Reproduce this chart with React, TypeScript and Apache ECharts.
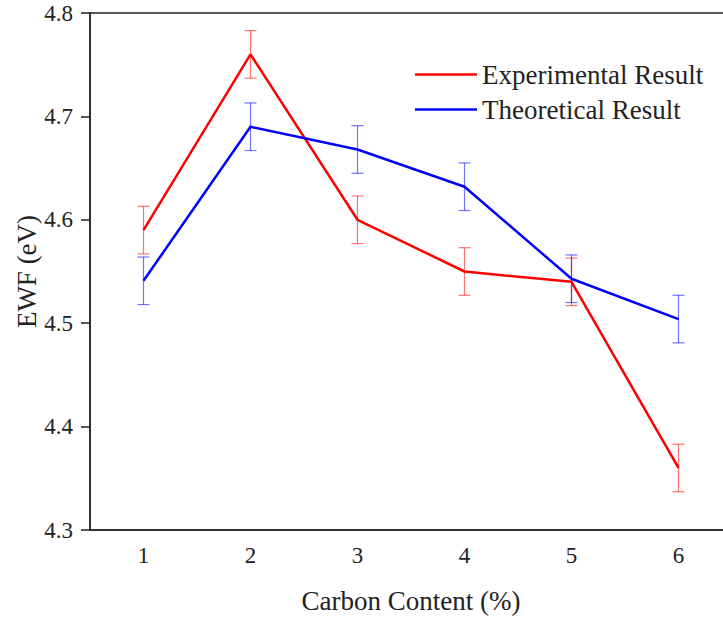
import React, { useEffect, useRef } from "react";
import * as echarts from "echarts";

const categories = ["1", "2", "3", "4", "5", "6"];
const experimental = [4.59, 4.76, 4.6, 4.55, 4.54, 4.36];
const experimentalErr = [0.023, 0.023, 0.023, 0.023, 0.023, 0.023];
const theoretical = [4.541, 4.69, 4.668, 4.632, 4.543, 4.504];
const theoreticalErr = [0.023, 0.023, 0.023, 0.023, 0.023, 0.023];

const FONT = "Liberation Serif";

function errorSeries(values: number[], errs: number[], color: string) {
  return {
    type: "custom",
    silent: true,
    z: 1,
    data: values.map((v, i) => [i, v - errs[i], v + errs[i]]),
    encode: { x: 0, y: [1, 2] },
    renderItem: (params: any, api: any) => {
      const x = api.value(0);
      const lo = api.coord([x, api.value(1)]);
      const hi = api.coord([x, api.value(2)]);
      const hw = 6;
      const style = { stroke: color, lineWidth: 1.2 };
      return {
        type: "group",
        children: [
          { type: "line", shape: { x1: lo[0], y1: lo[1], x2: hi[0], y2: hi[1] }, style },
          { type: "line", shape: { x1: lo[0] - hw, y1: lo[1], x2: lo[0] + hw, y2: lo[1] }, style },
          { type: "line", shape: { x1: hi[0] - hw, y1: hi[1], x2: hi[0] + hw, y2: hi[1] }, style },
        ],
      };
    },
  };
}

export default function App() {
  const ref = useRef<HTMLDivElement>(null);
  useEffect(() => {
    if (!ref.current) return;
    const chart = echarts.init(ref.current, undefined, { renderer: "svg" });
    chart.setOption({
      animation: false,
      backgroundColor: "#ffffff",
      grid: {
        left: 90,
        right: 0,
        top: 13,
        bottom: 87,
        show: true,
        borderColor: "#222",
        borderWidth: 1.5,
      },
      legend: {
        orient: "vertical",
        left: 410,
        top: 56,
        icon: "rect",
        itemWidth: 62,
        itemHeight: 2.5,
        itemGap: 8,
        textStyle: { fontFamily: FONT, fontSize: 27, color: "#222" },
        data: ["Experimental Result", "Theoretical Result"],
      },
      xAxis: {
        type: "category",
        data: categories,
        boundaryGap: true,
        name: "Carbon Content (%)",
        nameLocation: "middle",
        nameGap: 57,
        nameMoveOverlap: false,
        nameTextStyle: { fontFamily: FONT, fontSize: 27, color: "#222" },
        axisLine: { lineStyle: { color: "#222", width: 1.5 } },
        axisTick: { alignWithLabel: true, length: 8, lineStyle: { color: "#222", width: 1.5 } },
        axisLabel: { fontFamily: FONT, fontSize: 23, color: "#222", margin: 14 },
        splitLine: { show: false },
      },
      yAxis: {
        type: "value",
        min: 4.3,
        max: 4.8,
        interval: 0.1,
        name: "EWF (eV)",
        nameLocation: "middle",
        nameGap: 50,
        nameMoveOverlap: false,
        nameRotate: 90,
        nameTextStyle: { fontFamily: FONT, fontSize: 27, color: "#222" },
        axisLine: { show: true, lineStyle: { color: "#222", width: 1.5 } },
        axisTick: { show: true, length: 9, lineStyle: { color: "#222", width: 1.5 } },
        axisLabel: {
          fontFamily: FONT,
          fontSize: 23,
          color: "#222",
          margin: 17,
          formatter: (v: number) => v.toFixed(1),
        },
        splitLine: { show: false },
      },
      series: [
        errorSeries(experimental, experimentalErr, "rgba(255,0,0,0.55)"),
        errorSeries(theoretical, theoreticalErr, "rgba(0,0,255,0.55)"),
        {
          name: "Experimental Result",
          type: "line",
          data: experimental,
          symbol: "none",
          z: 3,
          lineStyle: { color: "#ff0000", width: 2.5 },
          itemStyle: { color: "#ff0000" },
        },
        {
          name: "Theoretical Result",
          type: "line",
          data: theoretical,
          symbol: "none",
          z: 3,
          lineStyle: { color: "#0000ff", width: 2.5 },
          itemStyle: { color: "#0000ff" },
        },
      ],
    });
    return () => chart.dispose();
  }, []);
  return (
    <div style={{ width: 723, height: 619, position: "absolute", left: 0, top: 0, overflow: "hidden" }}>
      <div ref={ref} style={{ width: 732, height: 619 }} />
    </div>
  );
}
